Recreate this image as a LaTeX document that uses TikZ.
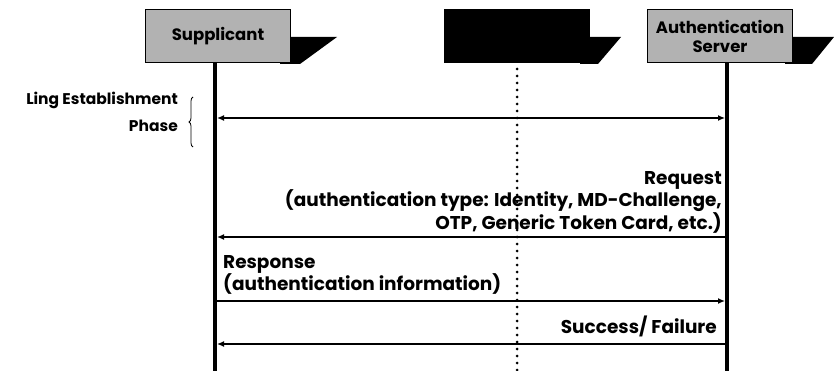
\documentclass[tikz,border=0pt]{standalone}
\usepackage{fontspec}
\setmainfont{Poppins}
\usetikzlibrary{arrows.meta,decorations.pathreplacing}
\begin{document}
\begin{tikzpicture}[x=1pt,y=-1pt,
  font=\bfseries\fontsize{18.5}{20.5}\selectfont,
  entity/.style={draw=black,line width=1pt,fill=gray!60,minimum width=145pt,
    minimum height=53pt,inner sep=0pt,align=center,
    font=\bfseries\fontsize{16.5}{19}\selectfont},
  flag/.style={fill=black},
  lifeline/.style={line width=3.5pt},
  dotline/.style={line width=3pt,line cap=round,dash pattern=on 0pt off 7pt},
  msg/.style={line width=1.3pt,-{Latex[length=7pt,width=6pt]}},
  msgboth/.style={line width=1.3pt,{Latex[length=7pt,width=6pt]}-{Latex[length=7pt,width=6pt]}},
  lbl/.style={inner sep=0pt,align=right}]
\useasboundingbox (0,0) rectangle (834,371);

% black flag shadows behind the entity boxes
\fill[flag] (280,37) -- (337,37) -- (300,64) -- (280,64) -- cycle;
\fill[flag] (580,37) -- (621,37) -- (598,64) -- (580,64) -- cycle;
\fill[flag] (785,37) -- (834,37) -- (812,64) -- (785,64) -- cycle;

% entities
\node[entity] (sup) at (218,36) {Supplicant};
\node[entity,fill=black] (mid) at (517,36) {};
\node[entity] (auth) at (720,36) {Authentication\\Server};

% lifelines
\coordinate (supend) at (215,371);
\coordinate (midend) at (517,371);
\coordinate (authend) at (727,371);
\draw[lifeline] (sup.south -| supend) -- (supend);
\draw[dotline] (mid.south -| midend) ++(0,6) -- (midend);
\draw[lifeline] (auth.south -| authend) -- (authend);

% message end points on the lifelines
\coordinate (s1) at (217,118); \coordinate (a1) at (725,118);
\coordinate (s2) at (217,237); \coordinate (a2) at (725,237);
\coordinate (s3) at (217,301); \coordinate (a3) at (725,301);
\coordinate (s4) at (217,344); \coordinate (a4) at (725,344);

% link establishment phase
\draw[msgboth] (s1) -- (a1);
\node[lbl,anchor=north east,font=\bfseries\fontsize{15.5}{27}\selectfont] (phase) at (178,92)
  {Ling Establishment\\Phase};
\draw[line width=0.8pt,decorate,decoration={brace,amplitude=4pt,mirror}]
  (193,97) coordinate (brtop) -- (193,147) coordinate (brbot);

% request
\draw[msg] (a2) -- (s2);
\node[lbl,anchor=north east] (req) at (722,171)
  {Request\\(authentication type: Identity, MD-Challenge,\\OTP, Generic Token Card, etc.)};

% response
\draw[msg] (s3) -- (a3);
\node[lbl,anchor=north west,align=left] (resp) at (223,255)
  {Response\\(authentication information)};

% success / failure
\draw[msg] (a4) -- (s4);
\node[lbl,anchor=north east] (res) at (717,316) {Success/ Failure};
\end{tikzpicture}
\end{document}
